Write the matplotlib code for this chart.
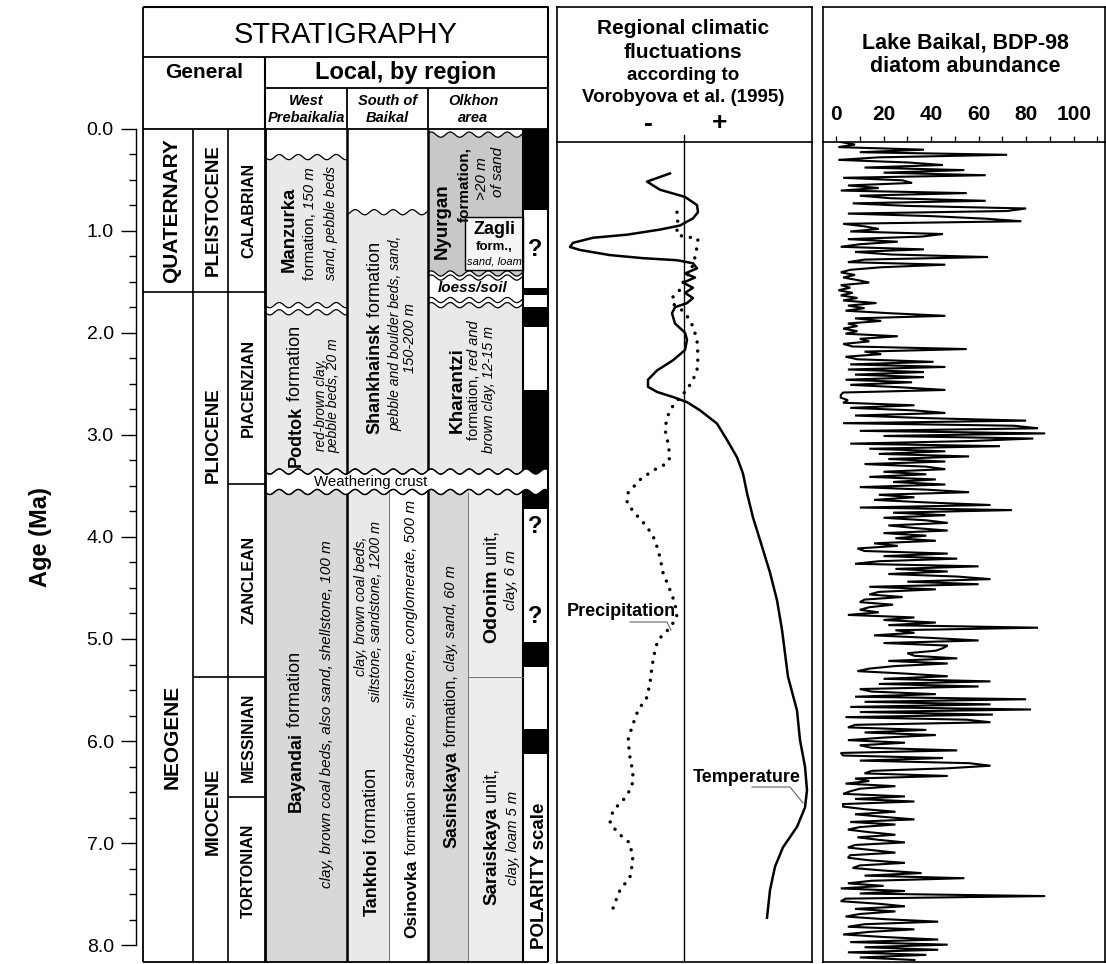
import numpy as np
import matplotlib.pyplot as plt
from matplotlib import font_manager, transforms
from matplotlib.font_manager import FontProperties
from matplotlib.patches import Polygon, Rectangle
from matplotlib.ticker import MultipleLocator

# ------------------------------------------------------------------ data
eras = ["QUATERNARY", "NEOGENE"]
era_bounds = [0.0, 1.6, 8.0]
epochs = ["PLEISTOCENE", "PLIOCENE", "MIOCENE"]
epoch_bounds = [0.0, 1.6, 5.37, 8.0]
stages = ["CALABRIAN", "PIACENZIAN", "ZANCLEAN", "MESSINIAN", "TORTONIAN"]
stage_bounds = [0.0, 1.6, 3.48, 5.37, 6.55, 8.0]

# normal polarity intervals (Ma) and levels of uncertain polarity
polarity_normal = [(0.0, 0.80), (1.56, 1.63), (1.75, 1.94), (2.56, 3.73), (5.03, 5.27), (5.88, 6.13)]
polarity_unsure = [1.19, 3.90, 4.78]

# local units: name, column, top (Ma), base (Ma), erosional top, erosional base
units = [
    ("Manzurka", "west", 0.28, 1.73, True, True),
    ("Podtok", "west", 1.80, 3.36, True, True),
    ("Bayandai", "west", 3.56, 8.2, True, False),
    ("Shankhainsk", "south", 0.82, 3.36, True, True),
    ("Tankhoi", "south_a", 3.56, 8.2, True, False),
    ("Osinovka", "south_b", 3.56, 8.2, True, False),
    ("Nyurgan", "olkhon", 0.06, 1.42, True, True),
    ("loess/soil", "olkhon", 1.46, 1.68, True, True),
    ("Kharantzi", "olkhon", 1.73, 3.36, True, True),
    ("Sasinskaya", "olkhon_a", 3.56, 8.2, True, False),
    ("Odonim", "olkhon_b", 3.56, 5.37, True, False),
    ("Saraiskaya", "olkhon_b", 5.37, 8.2, False, False),
    ("Zagli", "zagli", 0.87, 1.39, False, False),
]
crust = (3.36, 3.56)

# regional climate (Vorobyova et al. 1995), relative units, 0 = present
temp_age = [0.44, 0.52, 0.60, 0.67, 0.75, 0.82, 0.88, 0.95, 0.99, 1.04, 1.07, 1.12, 1.16,
            1.19, 1.24, 1.27, 1.29, 1.32, 1.37, 1.42, 1.46, 1.51, 1.56, 1.61, 1.66, 1.71,
            1.75, 1.81, 1.91, 2.00, 2.07, 2.17, 2.27, 2.37, 2.46, 2.53, 2.58, 2.63, 2.68,
            2.76, 2.89, 3.05, 3.22, 3.38, 3.57, 3.81, 4.03, 4.35, 4.62, 4.91, 5.14, 5.37,
            5.70, 5.99, 6.25, 6.48, 6.65, 6.84, 7.04, 7.23, 7.46, 7.73]
temp_val = [-0.56, -1.48, -0.96, 0.04, 0.52, 0.56, 0.36, -0.16, -0.96, -2.28, -3.64, -4.44,
            -4.56, -4.16, -2.96, -1.64, -0.28, 0.36, 0.52, 0.04, 0.44, -0.04, 0.36, 0.04,
            0.36, 0.12, -0.36, -0.48, -0.36, 0.04, 0.12, 0.04, -0.44, -1.08, -1.44, -1.44,
            -1.08, -0.44, 0.12, 0.64, 1.32, 1.72, 2.12, 2.36, 2.52, 2.76, 3.04, 3.44, 3.72,
            3.92, 4.04, 4.16, 4.52, 4.64, 4.84, 4.92, 4.84, 4.52, 3.96, 3.64, 3.44, 3.32]
prec_age = [0.82, 0.88, 0.97, 1.04, 1.06, 1.07, 1.08, 1.16, 1.26, 1.36, 1.45, 1.51, 1.58,
            1.65, 1.71, 1.78, 1.85, 1.94, 2.07, 2.24, 2.37, 2.46, 2.56, 2.63, 2.73, 2.83,
            2.95, 3.08, 3.22, 3.28, 3.35, 3.44, 3.57, 3.67, 3.77, 3.90, 4.03, 4.20, 4.35,
            4.52, 4.65, 4.79, 4.91, 5.01, 5.11, 5.27, 5.43, 5.57, 5.70, 5.86, 5.99, 6.16,
            6.31, 6.45, 6.58, 6.68, 6.80, 6.90, 7.00, 7.17, 7.33, 7.46, 7.63, 7.70]
prec_val = [-0.28, -0.24, -0.28, -0.28, 0.04, 0.36, 0.56, 0.52, 0.44, 0.32, 0.12, -0.04,
            -0.16, -0.44, -0.48, -0.08, 0.16, 0.36, 0.52, 0.56, 0.52, 0.36, 0.12, -0.16,
            -0.48, -0.68, -0.76, -0.64, -0.56, -0.68, -1.24, -1.76, -2.24, -2.28, -1.96,
            -1.48, -1.16, -0.96, -0.84, -0.56, -0.36, -0.28, -0.64, -1.04, -1.16, -1.28,
            -1.36, -1.48, -1.84, -2.08, -2.24, -2.16, -2.04, -2.08, -2.44, -2.84, -2.96,
            -2.64, -2.16, -2.04, -2.16, -2.56, -2.84, -2.76]

# Lake Baikal BDP-98 diatom abundance, one value every 0.025 Ma from 0 to 8 Ma
diatom = [
    2, 8, 1, 37, 10, 72, 18, 1, 30, 45, 12, 54, 20, 63, 3, 28, 32, 5, 18, 2,
    55, 10, 23, 63, 7, 30, 80, 72, 5, 40, 63, 78, 3, 12, 18, 6, 45, 36, 5, 26,
    10, 2, 37, 8, 23, 64, 12, 5, 46, 19, 6, 2, 8, 3, 9, 14, 2, 6, 1, 7,
    2, 9, 3, 17, 5, 12, 4, 23, 46, 8, 19, 5, 9, 3, 9, 4, 26, 10, 14, 3,
    7, 55, 12, 19, 4, 9, 41, 6, 46, 5, 37, 8, 37, 4, 32, 6, 28, 46, 3, 2,
    2, 5, 3, 33, 6, 33, 46, 8, 37, 80, 3, 75, 85, 10, 88, 20, 83, 56, 6, 69,
    14, 46, 18, 56, 22, 46, 12, 38, 46, 20, 38, 14, 42, 24, 46, 10, 38, 56, 18, 33,
    16, 38, 65, 10, 74, 24, 46, 20, 38, 47, 22, 33, 47, 20, 38, 25, 42, 16, 26, 9,
    12, 47, 20, 51, 18, 8, 60, 25, 47, 22, 51, 65, 30, 60, 14, 42, 18, 14, 28, 12,
    10, 24, 14, 10, 18, 5, 33, 20, 42, 22, 85, 25, 33, 16, 40, 60, 20, 47, 45, 42,
    30, 33, 51, 22, 47, 25, 14, 9, 30, 47, 20, 65, 18, 60, 10, 15, 42, 8, 80, 12,
    65, 6, 82, 10, 66, 4, 55, 65, 8, 5, 38, 12, 42, 20, 5, 29, 10, 15, 51, 2,
    3, 45, 10, 56, 65, 47, 15, 12, 47, 8, 14, 4, 25, 10, 6, 3, 29, 8, 33, 3,
    3, 12, 25, 8, 20, 33, 6, 25, 10, 5, 14, 25, 9, 18, 29, 8, 5, 15, 25, 6,
    5, 14, 29, 10, 7, 20, 36, 12, 54, 15, 5, 20, 2, 29, 10, 88, 4, 2, 18, 29,
    8, 25, 10, 4, 20, 43, 12, 5, 33, 14, 3, 20, 43, 6, 47, 12, 43, 5, 38, 10, 33,
]
diatom_age = np.linspace(0.0, 8.0, len(diatom))

# ------------------------------------------------------------------ style / layout
FAM = ["Liberation Sans", "DejaVu Sans"]
have = {f.name for f in font_manager.fontManager.ttflist}
NARROW = (["Liberation Sans Narrow"] + FAM) if "Liberation Sans Narrow" in have else FAM
plt.rcParams["font.family"] = FAM

W, H = 1106, 964
Y0, PXMA = 128.5, 102.1          # pixel row of 0 Ma, pixels per Ma
YTOP, YHEAD, YBOT = 7, 142, 962

LIGHT, MID, DARK = "#e9e9e9", "#d8d8d8", "#c8c8c8"
fills = {"Manzurka": LIGHT, "Podtok": LIGHT, "Bayandai": MID, "Shankhainsk": LIGHT,
         "Tankhoi": LIGHT, "Osinovka": "white", "Nyurgan": DARK, "loess/soil": "white",
         "Kharantzi": LIGHT, "Sasinskaya": MID, "Odonim": "#ededed", "Saraiskaya": "#ededed",
         "Zagli": "#f5f5f5"}
columns = {"west": (265, 347), "south": (347, 428), "south_a": (347, 389),
           "south_b": (389, 428), "olkhon": (428, 523), "olkhon_a": (428, 468),
           "olkhon_b": (468, 523), "zagli": (465, 523)}


def A(y):
    # pixel row -> age, used for placing labels
    return (np.asarray(y, dtype=float) - Y0) / PXMA


def rect(x0, y0, x1, y1):
    return [x0 / W, 1 - y1 / H, (x1 - x0) / W, (y1 - y0) / H]


fig = plt.figure(figsize=(W / 100, H / 100), dpi=100)
renderer = fig.canvas.get_renderer()


def fp(size, weight="normal", style="normal", family=FAM):
    return FontProperties(family=family, size=size, weight=weight, style=style)


def text_len(s, prop):
    w1 = renderer.get_text_width_height_descent("|" + s + "|", prop, ismath=False)[0]
    w0 = renderer.get_text_width_height_descent("||", prop, ismath=False)[0]
    return w1 - w0


def vtext(axis, x, yc, parts, family=FAM):
    # rotated line built from (text, size, weight, style) pieces, centred on pixel row yc
    props = [fp(p[1], p[2], p[3], family) for p in parts]
    lens = [text_len(p[0], pr) for p, pr in zip(parts, props)]
    off = -sum(lens) / 2
    for p, pr, L in zip(parts, props, lens):
        tr = transforms.offset_copy(axis.transData, fig=fig, x=0, y=off, units="dots")
        axis.text(x, A(yc), p[0], fontproperties=pr, transform=tr, rotation=90,
                  rotation_mode="anchor", ha="left", va="center_baseline", zorder=8)
        off += L


def wave(xs, age):
    return age + 2.6 / PXMA * np.sin(2 * np.pi * (xs - 265) / 19.0)


def edge(xs, age, wavy):
    return wave(xs, age) if wavy else np.full_like(xs, age)


# ------------------------------------------------------------------ stratigraphy body
ABOT = float(A(YBOT))
ax = fig.add_axes(rect(143, Y0, 548, YBOT))
ax.set_xlim(143, 548)
ax.set_ylim(ABOT, 0)
ax.patch.set_alpha(0)
for s in ["top", "right", "bottom"]:
    ax.spines[s].set_visible(False)
ax.spines["left"].set_position(("outward", 5))
ax.spines["left"].set_bounds(0, 8)
ax.spines["left"].set_linewidth(1.0)
ax.set_xticks([])
ax.set_yticks(np.arange(0, 9))
ax.set_yticklabels([f"{v:.1f}" for v in range(9)])
ax.yaxis.set_minor_locator(MultipleLocator(0.25))
ax.tick_params(axis="y", which="major", length=11, width=1, labelsize=14, pad=5)
ax.tick_params(axis="y", which="minor", length=5, width=1)


def line(axis, xs, ys, lw=1.3, color="k", z=5):
    axis.plot(xs, ys, color=color, lw=lw, clip_on=False, zorder=z, solid_capstyle="butt")


wavy_edges = []
for name, col, top, base, wtop, wbase in units:
    x0, x1 = columns[col]
    xs = np.linspace(x0, x1, 90)
    base = min(base, ABOT)
    yt, yb = edge(xs, top, wtop), edge(xs, base, wbase)
    ec = "k" if name == "Zagli" else "none"
    ax.add_patch(Polygon(np.r_[np.c_[xs, yt], np.c_[xs[::-1], yb[::-1]]], closed=True,
                         fc=fills[name], ec=ec, lw=1.0, zorder=2))
    if wtop:
        wavy_edges.append((xs, yt))
    if wbase:
        wavy_edges.append((xs, yb))

for top, base in polarity_normal:
    ax.add_patch(Rectangle((523, top), 25, base - top, fc="k", ec="none", zorder=3))

# column rules
for x, lw in [(143, 1.3), (193, 1.2), (228, 1.2), (347, 1.8), (428, 1.8), (523, 1.5)]:
    line(ax, [x, x], [0, ABOT], lw=lw, z=4)
line(ax, [389, 389], [crust[1], ABOT], lw=0.7, color="0.45", z=4)
line(ax, [468, 468], [crust[1], ABOT], lw=0.7, color="0.45", z=4)
line(ax, [468, 523], [5.37, 5.37], lw=0.7, color="0.45", z=4)
for b in era_bounds[1:-1]:
    line(ax, [143, 193], [b, b], lw=1.2)
for b in epoch_bounds[1:-1]:
    line(ax, [193, 228], [b, b], lw=1.2)
for b in stage_bounds[1:-1]:
    line(ax, [228, 265], [b, b], lw=1.2)

# weathering crust across all local columns
xs = np.linspace(265, 547, 150)
ct, cb = wave(xs, crust[0]), wave(xs, crust[1])
ax.add_patch(Polygon(np.r_[np.c_[xs, ct], np.c_[xs[::-1], cb[::-1]]], closed=True,
                     fc="white", ec="none", zorder=6))
wavy_edges += [(xs, ct), (xs, cb)]
for xw, yw in wavy_edges:
    ax.plot(xw, yw, color="k", lw=0.9, zorder=7)
line(ax, [265, 265], [0, ABOT], lw=2.0, z=7)
line(ax, [548, 548], [0, ABOT], lw=1.5, z=7)
line(ax, [143, 548], [0, 0], lw=1.3, z=7)
line(ax, [143, 548], [ABOT, ABOT], lw=1.3, z=7)


# general time-scale labels
def band_labels(names, bounds, x, size, family, at=None):
    for i, nm in enumerate(names):
        yc = Y0 + PXMA * (bounds[i] + bounds[i + 1]) / 2
        if at and nm in at:
            yc = at[nm]
        vtext(ax, x, yc, [(nm, size, "bold", "normal")], family=family)


band_labels(eras, era_bounds, 170, 15, FAM, at={"NEOGENE": 737})
band_labels(epochs, epoch_bounds, 211, 13.5, NARROW, at={"PLIOCENE": 435})
band_labels(stages, stage_bounds, 247, 11.5, NARROW)

B, N, I = "bold", "normal", "italic"
unit_labels = [
    (287, 229, [("Manzurka", 13.3, B, N)]),
    (308, 224, [("formation, ", 10.8, N, N), ("150 m", 10.8, N, I)]),
    (330, 223, [("sand, pebble beds", 10, N, I)]),
    (294, 396, [("Podtok", 13, B, N), (" formation", 13, N, N)]),
    (319, 405, [("red-brown clay,", 9.8, N, I)]),
    (332, 396, [("pebble beds, 20 m", 10, N, I)]),
    (294, 732, [("Bayandai", 13, B, N), (" formation", 13, N, N)]),
    (326, 714, [("clay, brown coal beds, also sand, shellstone, 100 m", 11, N, I)]),
    (373, 338, [("Shankhainsk", 13, B, N), (" formation", 13, N, N)]),
    (394, 333, [("pebble and boulder beds, sand,", 10, N, I)]),
    (409, 338, [("150-200 m", 10.5, N, I)]),
    (359, 606, [("clay, brown coal beds,", 10.3, N, I)]),
    (374, 611, [("siltstone, sandstone, 1200 m", 10.3, N, I)]),
    (370, 842, [("Tankhoi", 13, B, N), (" formation", 13, N, N)]),
    (410, 719, [("Osinovka", 12.5, B, N), (" formation ", 11, N, N),
                ("sandstone, siltstone, conglomerate, 500 m", 11, N, I)]),
    (450, 707, [("Sasinskaya", 12.8, B, N), (" formation, ", 11.5, N, N),
                ("clay, sand, 60 m", 10.5, N, I)]),
    (490, 587, [("Odonim", 14, B, N), (" unit,", 13, N, N)]),
    (510, 580, [("clay, 6 m", 11, N, I)]),
    (490, 837, [("Saraiskaya", 13.5, B, N), (" unit,", 13, N, N)]),
    (511, 838, [("clay, loam 5 m", 10.6, N, I)]),
    (537, 876, [("POLARITY scale", 13.5, B, N)]),
    (440, 221, [("Nyurgan", 13.5, B, N)]),
    (463, 185, [("formation,", 11, B, N)]),
    (480, 179, [(">20 m", 11, N, I)]),
    (496, 172, [("of sand", 11, N, I)]),
    (455, 390, [("Kharantzi", 13.6, B, N)]),
    (472, 380, [("formation, ", 10.5, N, N), ("red and", 10.5, N, I)]),
    (487, 390, [("brown clay, 12-15 m", 10.3, N, I)]),
]
for x, yc, parts in unit_labels:
    vtext(ax, x, yc, parts)

ax.text(494, A(229), "Zagli", ha="center", va="center", fontsize=13, fontweight="bold", zorder=8)
ax.text(494, A(247), "form.,", ha="center", va="center", fontsize=9.5, fontweight="bold", zorder=8)
ax.text(494, A(262), "sand, loam", ha="center", va="center", fontsize=8, style="italic", zorder=8)
ax.text(473, A(288), "loess/soil", ha="center", va="center", fontsize=11, fontweight="bold",
        style="italic", zorder=8)
ax.text(371, A(482), "Weathering crust", ha="center", va="center", fontsize=10.8, zorder=8)
for a in polarity_unsure:
    ax.text(535, a, "?", ha="center", va="center", fontsize=17, fontweight="bold", zorder=8)

fig.text(40 / W, 1 - 537 / H, "Age (Ma)", rotation=90, ha="center", va="center",
         fontsize=17, fontweight="bold")

# ------------------------------------------------------------------ stratigraphy header
axh = fig.add_axes(rect(143, YTOP, 548, Y0))
axh.set_xlim(143, 548)
axh.set_ylim(Y0, YTOP)
axh.axis("off")
line(axh, [143, 548, 548], [YTOP, YTOP, Y0], lw=1.5)
line(axh, [143, 143], [YTOP, Y0], lw=1.3)
line(axh, [143, 548], [57, 57], lw=1.3)
line(axh, [265, 548], [88, 88], lw=1.3)
line(axh, [265, 265], [57, Y0], lw=1.5)
line(axh, [347, 347], [88, Y0], lw=1.3)
line(axh, [428, 428], [88, Y0], lw=1.3)
axh.text(345.5, 35, "STRATIGRAPHY", ha="center", va="center", fontsize=21)
axh.text(204, 73, "General", ha="center", va="center", fontsize=15, fontweight="bold")
axh.text(406, 73, "Local, by region", ha="center", va="center", fontsize=17, fontweight="bold")
for xc, l1, l2 in [(306, "West", "Prebaikalia"), (387.5, "South of", "Baikal"), (473, "Olkhon", "area")]:
    axh.text(xc, 101, l1, ha="center", va="center", fontsize=10.5, fontweight="bold", style="italic")
    axh.text(xc, 118, l2, ha="center", va="center", fontsize=10.5, fontweight="bold", style="italic")

# ------------------------------------------------------------------ climate panel
axch = fig.add_axes(rect(557, YTOP, 812, YHEAD))
axch.set_xlim(557, 812)
axch.set_ylim(YHEAD, YTOP)
axch.set_xticks([])
axch.set_yticks([])
axch.spines["bottom"].set_visible(False)
for s in axch.spines.values():
    s.set_linewidth(1.2)
axch.plot([684, 684], [135, YHEAD], color="k", lw=1.0, clip_on=False)
for yy, txt, sz in [(29, "Regional climatic", 15), (52, "fluctuations", 15),
                    (75, "according to", 13.5), (97, "Vorobyova et al. (1995)", 13.5)]:
    axch.text(683, yy, txt, ha="center", va="center", fontsize=sz, fontweight="bold")
axch.text(648, 124, "-", ha="center", va="center", fontsize=19, fontweight="bold")
axch.text(720, 123, "+", ha="center", va="center", fontsize=19, fontweight="bold")

axc = fig.add_axes(rect(557, YHEAD, 812, YBOT))
axc.set_xlim(-127 / 25, 128 / 25)
axc.set_ylim(ABOT, float(A(YHEAD)))
axc.set_xticks([])
axc.set_yticks([])
for s in axc.spines.values():
    s.set_linewidth(1.2)
axc.axvline(0, color="k", lw=1.0)
axc.plot(prec_val, prec_age, color="k", lw=2.5, ls=(0, (0.01, 2.6)), dash_capstyle="round")
axc.plot(temp_val, temp_age, color="k", lw=1.8, solid_joinstyle="round")


def cx(px):
    return (np.asarray(px, dtype=float) - 684) / 25


axc.text(cx(567), A(611), "Precipitation", ha="left", va="center", fontsize=13, fontweight="bold")
axc.plot(cx([630, 667, 671]), A([622, 622, 630]), color="0.4", lw=0.8)
axc.text(cx(693), A(778), "Temperature", ha="left", va="center", fontsize=13, fontweight="bold")
axc.plot(cx([752, 790, 803]), A([787, 787, 803]), color="0.4", lw=0.8)

# ------------------------------------------------------------------ diatom panel
axdh = fig.add_axes(rect(823, YTOP, 1105, YHEAD))
axdh.set_xticks([])
axdh.set_yticks([])
axdh.spines["bottom"].set_visible(False)
for s in axdh.spines.values():
    s.set_linewidth(1.2)
axdh.text(0.505, 1 - 36 / 135, "Lake Baikal, BDP-98", transform=axdh.transAxes,
          ha="center", va="center", fontsize=15.5, fontweight="bold")
axdh.text(0.505, 1 - 59 / 135, "diatom abundance", transform=axdh.transAxes,
          ha="center", va="center", fontsize=15.5, fontweight="bold")

axd = fig.add_axes(rect(823, YHEAD, 1105, YBOT))
axd.set_zorder(3)
axd.set_xlim(-13 / 2.377, 269 / 2.377)
axd.set_ylim(8.0 * (YBOT - YHEAD) / (960 - YHEAD), 0)
axd.plot(diatom, diatom_age, color="k", lw=1.5, solid_joinstyle="miter")
axd.xaxis.tick_top()
axd.set_xticks(np.arange(0, 101, 20))
axd.set_xticklabels([str(v) for v in range(0, 101, 20)], fontsize=15, fontweight="bold")
axd.xaxis.set_minor_locator(MultipleLocator(10))
axd.tick_params(axis="x", which="both", length=4, width=0.9, pad=9, direction="out")
axd.set_yticks([])
for s in axd.spines.values():
    s.set_linewidth(1.2)

fig.savefig("out.png", dpi=100)
